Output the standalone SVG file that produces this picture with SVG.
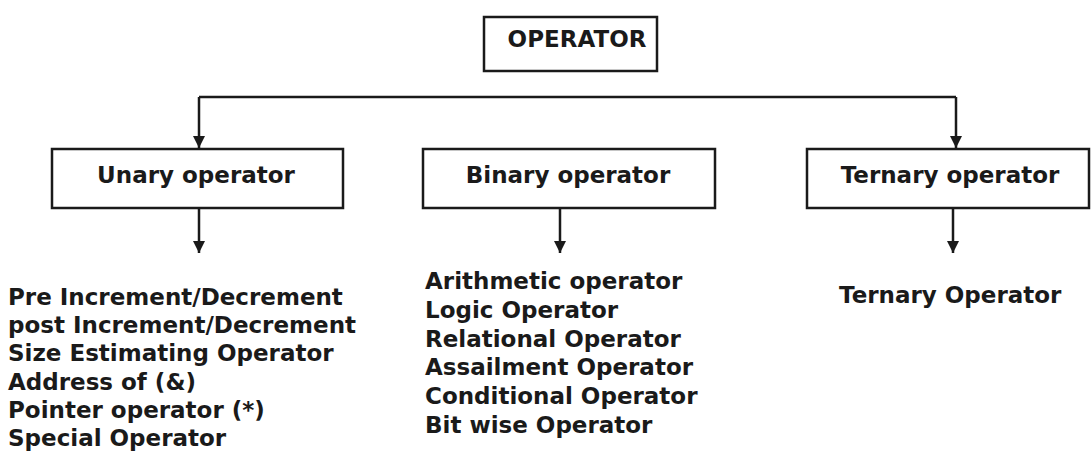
<svg xmlns="http://www.w3.org/2000/svg" width="1092" height="457" viewBox="0 0 1092 457">
<defs>
<style>
.box{fill:#fff;stroke:#1a1a1a;stroke-width:2.5}
.t{font-family:"DejaVu Sans",Verdana,sans-serif;font-weight:bold;font-size:23px;fill:#1a1a1a}
.c{text-anchor:middle}
.ln{stroke:#1a1a1a;stroke-width:2.5;fill:none}
</style>
<marker id="ah" viewBox="0 0 10 10" refX="10" refY="5" markerWidth="5" markerHeight="5" markerUnits="strokeWidth" orient="auto">
<path d="M0,0 L10,5 L0,10 Z" fill="#1a1a1a"/>
</marker>
</defs>
<rect width="1092" height="457" fill="#fff"/>
<g id="connectors">
<path class="ln" d="M199,97 H956"/>
<path class="ln" d="M199,97 V148" marker-end="url(#ah)"/>
<path class="ln" d="M956,97 V148" marker-end="url(#ah)"/>
<path class="ln" d="M199,208 V253" marker-end="url(#ah)"/>
<path class="ln" d="M560,208 V253" marker-end="url(#ah)"/>
<path class="ln" d="M953,208 V253" marker-end="url(#ah)"/>
</g>
<g id="operator">
<rect class="box" x="484" y="17" width="173" height="54"/>
<text class="t c" x="577" y="47">OPERATOR</text>
</g>
<g id="unary">
<rect class="box" x="52" y="149" width="291" height="59"/>
<text class="t c" x="196" y="183">Unary operator</text>
</g>
<g id="binary">
<rect class="box" x="423" y="149" width="292" height="59"/>
<text class="t c" x="568" y="183">Binary operator</text>
</g>
<g id="ternary">
<rect class="box" x="807" y="149" width="282" height="59"/>
<text class="t c" x="950" y="183">Ternary operator</text>
</g>
<g id="unary-list">
<text class="t" x="8" y="305">Pre Increment/Decrement</text>
<text class="t" x="8" y="333.2">post Increment/Decrement</text>
<text class="t" x="8" y="361.4">Size Estimating Operator</text>
<text class="t" x="8" y="389.6">Address of (&amp;)</text>
<text class="t" x="8" y="417.8">Pointer operator (*)</text>
<text class="t" x="8" y="446">Special Operator</text>
</g>
<g id="binary-list">
<text class="t" x="425" y="289">Arithmetic operator</text>
<text class="t" x="425" y="317.8">Logic Operator</text>
<text class="t" x="425" y="346.6">Relational Operator</text>
<text class="t" x="425" y="375.4">Assailment Operator</text>
<text class="t" x="425" y="404.2">Conditional Operator</text>
<text class="t" x="425" y="433">Bit wise Operator</text>
</g>
<g id="ternary-list">
<text class="t" x="839" y="303">Ternary Operator</text>
</g>
</svg>
